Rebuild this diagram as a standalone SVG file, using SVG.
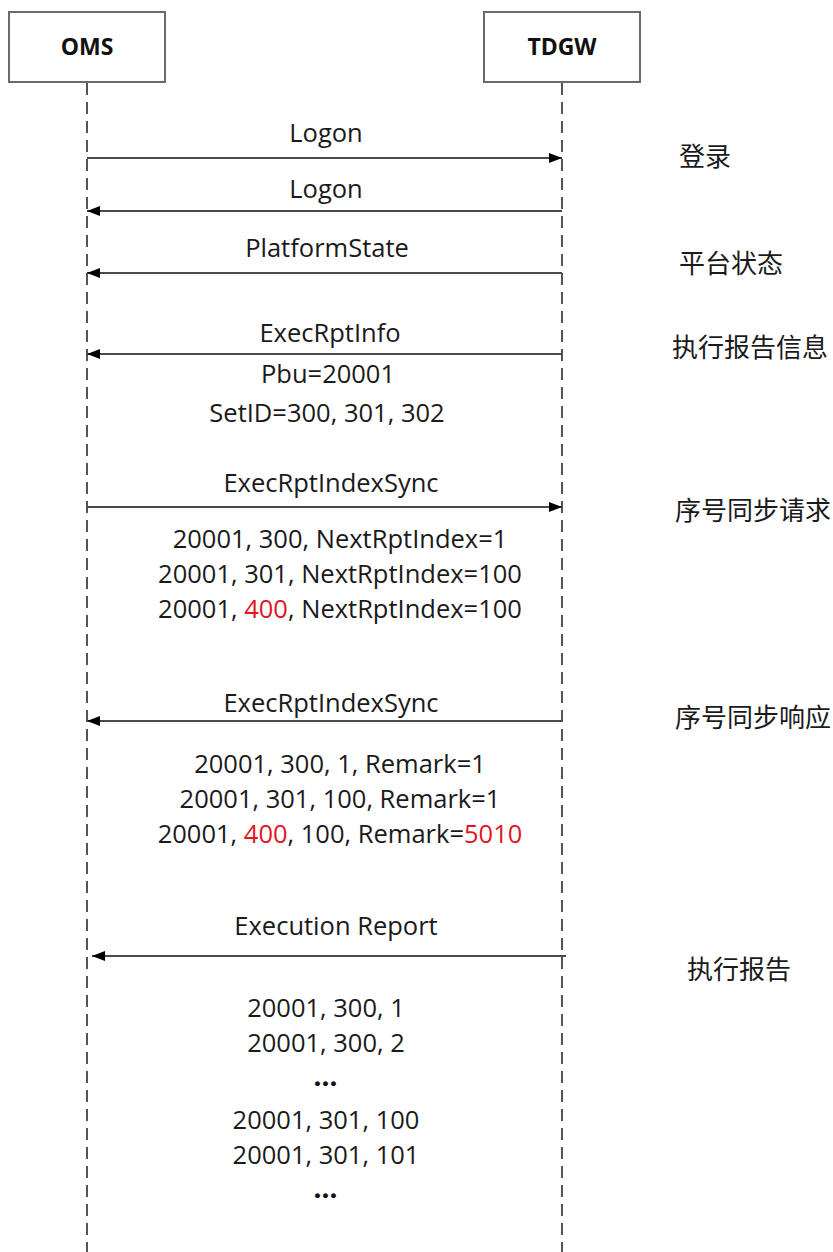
<svg xmlns="http://www.w3.org/2000/svg" width="833" height="1252" viewBox="0 0 833 1252">
<style>
.box{fill:#fff;stroke:#6a6a6a;stroke-width:2}
.life{stroke:#555;stroke-width:2;stroke-dasharray:12 7;fill:none}
.msg{stroke:#4a4a4a;stroke-width:2;fill:none}
.hd{font-family:"Open Sans","Liberation Sans",sans-serif;font-weight:bold;font-size:23px;fill:#111;text-anchor:middle}
.t{font-family:"Open Sans","Liberation Sans",sans-serif;font-size:25.5px;fill:#1a1a1a;text-anchor:middle}
.dots{font-family:"Open Sans","Liberation Sans",sans-serif;font-size:24px;font-weight:800;letter-spacing:1px;fill:#111;text-anchor:middle}
.red{fill:#e0161e}
.cn{font-family:"Noto Sans CJK SC",sans-serif;font-size:26px;fill:#1a1a1a}
</style>
<defs>
<marker id="ah" markerUnits="userSpaceOnUse" markerWidth="14" markerHeight="12" refX="13" refY="6" orient="auto">
<path d="M0,1 L13,6 L0,11 Z" fill="#000"/>
</marker>
</defs>
<rect width="833" height="1252" fill="#fff"/>
<g id="oms">
<rect class="box" x="9" y="12" width="156" height="70"/>
<text class="hd" x="87" y="55">OMS</text>
<line class="life" x1="87" y1="83" x2="87" y2="1252"/>
</g>
<g id="tdgw">
<rect class="box" x="484" y="12" width="156" height="70"/>
<text class="hd" x="562" y="55">TDGW</text>
<line class="life" x1="562" y1="83" x2="562" y2="1252"/>
</g>
<g id="connectors">
<line class="msg" x1="87" y1="158" x2="562" y2="158" marker-end="url(#ah)"/>
<line class="msg" x1="562" y1="211" x2="87" y2="211" marker-end="url(#ah)"/>
<line class="msg" x1="562" y1="273" x2="87" y2="273" marker-end="url(#ah)"/>
<line class="msg" x1="562" y1="354" x2="87" y2="354" marker-end="url(#ah)"/>
<line class="msg" x1="87" y1="507" x2="562" y2="507" marker-end="url(#ah)"/>
<line class="msg" x1="562" y1="721" x2="87" y2="721" marker-end="url(#ah)"/>
<line class="msg" x1="566" y1="956" x2="92" y2="956" marker-end="url(#ah)"/>
</g>
<g id="labels">
<text class="t" x="326" y="142">Logon</text>
<text class="t" x="326" y="198">Logon</text>
<text class="t" x="327" y="257">PlatformState</text>
<text class="t" x="330" y="342">ExecRptInfo</text>
<text class="t" x="328" y="383">Pbu=20001</text>
<text class="t" x="327" y="422">SetID=300, 301, 302</text>
<text class="t" x="331" y="492">ExecRptIndexSync</text>
<text class="t" x="340" y="548">20001, 300, NextRptIndex=1</text>
<text class="t" x="340" y="583">20001, 301, NextRptIndex=100</text>
<text class="t" x="340" y="618">20001, <tspan class="red">400</tspan>, NextRptIndex=100</text>
<text class="t" x="331" y="712">ExecRptIndexSync</text>
<text class="t" x="340" y="773">20001, 300, 1, Remark=1</text>
<text class="t" x="340" y="808">20001, 301, 100, Remark=1</text>
<text class="t" x="340" y="843">20001, <tspan class="red">400</tspan>, 100, Remark=<tspan class="red">5010</tspan></text>
<text class="t" x="336" y="935">Execution Report</text>
<text class="t" x="326" y="1017">20001, 300, 1</text>
<text class="t" x="326" y="1052">20001, 300, 2</text>
<text class="dots" x="326" y="1086">...</text>
<text class="t" x="326" y="1129">20001, 301, 100</text>
<text class="t" x="326" y="1164">20001, 301, 101</text>
<text class="dots" x="326" y="1198">...</text>
</g>
<g id="notes">
<text class="cn" x="679" y="166">登录</text>
<text class="cn" x="679" y="273">平台状态</text>
<text class="cn" x="672" y="357">执行报告信息</text>
<text class="cn" x="675" y="520">序号同步请求</text>
<text class="cn" x="675" y="727">序号同步响应</text>
<text class="cn" x="687" y="979">执行报告</text>
</g>
</svg>
